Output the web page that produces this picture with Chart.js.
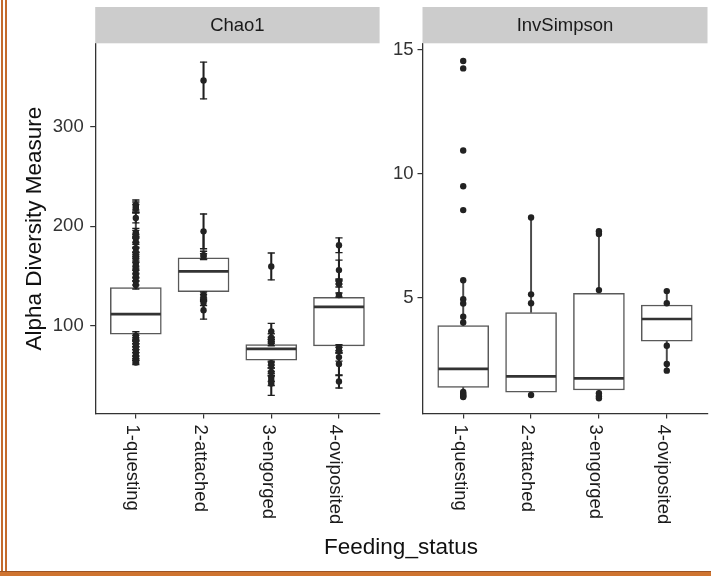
<!DOCTYPE html>
<html>
<head>
<meta charset="utf-8">
<title>Alpha diversity by feeding status</title>
<script src="https://cdn.jsdelivr.net/npm/chart.js@4.4.1/dist/chart.umd.min.js"></script>
<style>
  html, body { margin: 0; padding: 0; background: #ffffff; }
  #wrap { position: relative; width: 711px; height: 576px; overflow: hidden; background: #ffffff; }
  #wrap canvas { position: absolute; left: 0; top: 0; }
  .edge { position: absolute; background: #c46a2c; }
</style>
</head>
<body>
<div id="wrap">
  <canvas id="chao" width="711" height="576"></canvas>
  <canvas id="inv" width="711" height="576"></canvas>
  <div class="edge" style="left:1px;top:0;width:2px;height:572px;"></div>
  <div class="edge" style="left:5px;top:0;width:2px;height:572px;"></div>
  <div class="edge" style="left:0;top:571px;width:711px;height:1px;background:#9c5526;"></div>
  <div class="edge" style="left:0;top:572px;width:711px;height:4px;background:#cf7430;"></div>
</div>
<script>
// ---- data ----
const categories = ['1-questing', '2-attached', '3-engorged', '4-oviposited'];
const panelTitles = ['Chao1', 'InvSimpson'];
const xTitle = 'Feeding_status';
const yTitle = 'Alpha Diversity Measure';

const chaoTicks = [100, 200, 300];
const invTicks = [5, 10, 15];

// Chao1 box statistics per feeding status
const chaoQ1 = [91.7, 134.4, 65.5, 79.8];
const chaoMedian = [111.7, 154.7, 76.8, 119];
const chaoQ3 = [138.4, 168.4, 81, 128.7];
const chaoLower = [63, 115.7, 42, 44];
const chaoUpper = [208.5, 195, 94.4, 181];

// Chao1 estimates per sample and their standard errors
const chaoQuesting = [221.5, 219.5, 218, 208.5, 194, 192, 188, 184, 178, 174, 170, 168, 163, 160, 156, 152, 149, 145, 141, 90, 87.5, 85, 82, 79, 76, 73, 70, 67, 64.5, 63];
const chaoQuestingSE = [5, 5, 4, 5, 4, 4, 4, 5, 4, 4, 4, 4, 5, 4, 4, 4, 4, 4, 4, 4, 3, 3, 3, 3, 3, 3, 3, 2, 2, 2];
const chaoAttached = [346.7, 195, 171, 169.5, 131, 128.5, 123.4, 115.7];
const chaoAttachedSE = [18.5, 17.5, 4, 3, 3, 3, 3, 9];
const chaoEngorged = [159.7, 94.4, 88, 85.5, 83, 62.5, 60.5, 53.5, 48, 45, 42];
const chaoEngorgedSE = [13.5, 8, 4, 3, 3, 2, 3, 4, 4, 5, 12];
const chaoOviposited = [181, 156, 144.5, 142, 131, 78, 75.5, 68.5, 61.7, 44];
const chaoOvipositedSE = [7.4, 10, 2.5, 3, 2, 3, 3, 4, 11.7, 6.6];

// Inverse Simpson box statistics per feeding status
const invQ1 = [1.41, 1.21, 1.30, 3.27];
const invMedian = [2.15, 1.85, 1.77, 4.16];
const invQ3 = [3.89, 4.42, 5.19, 4.72];
const invLower = [1.02, 1.10, 0.97, 2.08];
const invUpper = [5.72, 8.24, 7.69, 5.28];

// Inverse Simpson per sample
const invQuesting = [14.54, 14.24, 10.94, 9.50, 8.54, 5.72, 4.95, 4.78, 4.25, 4.02, 1.22, 1.15, 1.10, 1.05, 1.02];
const invAttached = [8.24, 5.15, 4.79, 1.10];
const invEngorged = [7.69, 7.58, 5.32, 1.17, 1.05, 0.97];
const invOviposited = [5.28, 4.79, 3.08, 2.35, 2.08];

// ---- drawing ----
const FONT = "'Liberation Sans', Arial, Helvetica, sans-serif";
const AXIS = '#333333';

// Facet strip, rotated category labels and shared x title
const panelDecor = {
  id: 'panelDecor',
  afterDraw(chart, args, opts) {
    const { ctx, chartArea: a } = chart;
    ctx.save();
    ctx.fillStyle = '#cccccc';
    ctx.fillRect(a.left, opts.stripTop, a.right - a.left, a.top - opts.stripTop);
    ctx.fillStyle = '#1a1a1a';
    ctx.font = '18.5px ' + FONT;
    ctx.textAlign = 'center';
    ctx.textBaseline = 'middle';
    ctx.fillText(opts.title, (a.left + a.right) / 2, (opts.stripTop + a.top) / 2 + 1);

    const xs = chart.scales.x;
    ctx.textAlign = 'left';
    categories.forEach((c, i) => {
      const px = xs.getPixelForValue(i + 1);
      ctx.save();
      ctx.translate(px - 3.5, a.bottom + 10.5);
      ctx.rotate(Math.PI / 2);
      ctx.fillText(c, 0, 0);
      ctx.restore();
    });

    if (opts.xTitle) {
      ctx.font = '22.5px ' + FONT;
      ctx.fillStyle = '#111111';
      ctx.textAlign = 'center';
      ctx.textBaseline = 'alphabetic';
      ctx.fillText(opts.xTitle, opts.xTitleX, opts.xTitleY);
    }
    ctx.restore();
  }
};

function buildPanel(canvasId, spec) {
  const datasets = [];

  const whiskers = [];
  categories.forEach((c, i) => {
    whiskers.push({ x: i + 1, y: [spec.lower[i], spec.q1[i]] });
    whiskers.push({ x: i + 1, y: [spec.q3[i], spec.upper[i]] });
  });
  datasets.push({ type: 'bar', data: whiskers, backgroundColor: '#4a4a4a', borderWidth: 0,
    barThickness: 1.3, grouped: false, order: 5 });

  datasets.push({ type: 'bar',
    data: categories.map((c, i) => ({ x: i + 1, y: [spec.q1[i], spec.q3[i]] })),
    backgroundColor: '#ffffff', borderColor: '#595959', borderWidth: 1.5, borderSkipped: false,
    barThickness: 51, grouped: false, order: 4 });

  datasets.push({ type: 'scatter',
    data: categories.map((c, i) => ({ x: i + 1, y: spec.median[i] })),
    pointStyle: 'line', pointRadius: 25, pointHoverRadius: 25,
    pointBorderWidth: 2.6, pointBorderColor: '#333333', order: 3 });

  if (spec.se) {
    const bars = [], tops = [], bottoms = [];
    spec.points.forEach((arr, i) => {
      arr.forEach((v, j) => {
        const s = spec.se[i][j];
        bars.push({ x: i + 1, y: [v - s, v + s] });
        tops.push({ x: i + 1, y: v + s });
        bottoms.push({ x: i + 1, y: v - s });
      });
    });
    datasets.push({ type: 'bar', data: bars, backgroundColor: '#1f1f1f', borderWidth: 0,
      barThickness: 1.4, grouped: false, order: 1 });
    [tops, bottoms].forEach(d => datasets.push({ type: 'scatter', data: d,
      pointStyle: 'line', pointRadius: 3.6, pointHoverRadius: 3.6,
      pointBorderWidth: 1.4, pointBorderColor: '#1f1f1f', order: 1 }));
  }

  datasets.push({ type: 'scatter',
    data: spec.points.flatMap((arr, i) => arr.map(v => ({ x: i + 1, y: v }))),
    pointRadius: 3.2, pointHoverRadius: 3.2, pointBackgroundColor: '#222222',
    pointBorderWidth: 0, order: 0 });

  return new Chart(document.getElementById(canvasId), {
    type: 'scatter',
    data: { datasets },
    options: {
      responsive: false,
      animation: false,
      events: [],
      devicePixelRatio: 1,
      layout: { autoPadding: false, padding: { left: 0, top: 43.3, right: spec.padRight, bottom: 0 } },
      plugins: {
        legend: { display: false },
        tooltip: { enabled: false },
        panelDecor: { title: spec.title, stripTop: 7, xTitle: spec.xTitle,
          xTitleX: 401, xTitleY: 553.5 }
      },
      scales: {
        x: {
          type: 'linear', min: 0.4, max: 4.6, offset: false,
          afterBuildTicks: s => { s.ticks = categories.map((c, i) => ({ value: i + 1 })); },
          ticks: { display: false },
          grid: { offset: false, drawOnChartArea: false, drawTicks: true, tickLength: 4.5, color: AXIS, lineWidth: 1.2 },
          border: { display: true, color: AXIS, width: 1.3 },
          afterFit: s => { s.height = 576 - 414; }
        },
        y: {
          type: 'linear', min: spec.yMin, max: spec.yMax, offset: false,
          afterBuildTicks: s => { s.ticks = spec.ticks.map(v => ({ value: v })); },
          ticks: { font: { family: FONT, size: 18.5 }, color: '#333333', padding: spec.tickPad,
            callback: v => String(v) },
          grid: { offset: false, drawOnChartArea: false, drawTicks: true, tickLength: 5, color: AXIS, lineWidth: 1.2 },
          border: { display: true, color: AXIS, width: 1.3 },
          title: spec.yTitle ? { display: true, text: spec.yTitle, color: '#111111',
            font: { family: FONT, size: 22.5 }, padding: { top: 21, bottom: 0 } } : { display: false },
          afterFit: s => { s.width = spec.axisLeft; }
        }
      }
    },
    plugins: [panelDecor]
  });
}

buildPanel('chao', {
  title: panelTitles[0],
  q1: chaoQ1, median: chaoMedian, q3: chaoQ3, lower: chaoLower, upper: chaoUpper,
  points: [chaoQuesting, chaoAttached, chaoEngorged, chaoOviposited],
  se: [chaoQuestingSE, chaoAttachedSE, chaoEngorgedSE, chaoOvipositedSE],
  ticks: chaoTicks, yMin: 11.3, yMax: 384.1,
  axisLeft: 95.2, padRight: 711 - 379.6, tickPad: 6.5,
  yTitle: yTitle, xTitle: xTitle
});

buildPanel('inv', {
  title: panelTitles[1],
  q1: invQ1, median: invMedian, q3: invQ3, lower: invLower, upper: invUpper,
  points: [invQuesting, invAttached, invEngorged, invOviposited],
  se: null,
  ticks: invTicks, yMin: 0.336, yMax: 15.25,
  axisLeft: 422.5, padRight: 711 - 707.5, tickPad: 4,
  yTitle: null, xTitle: null
});
</script>
</body>
</html>
